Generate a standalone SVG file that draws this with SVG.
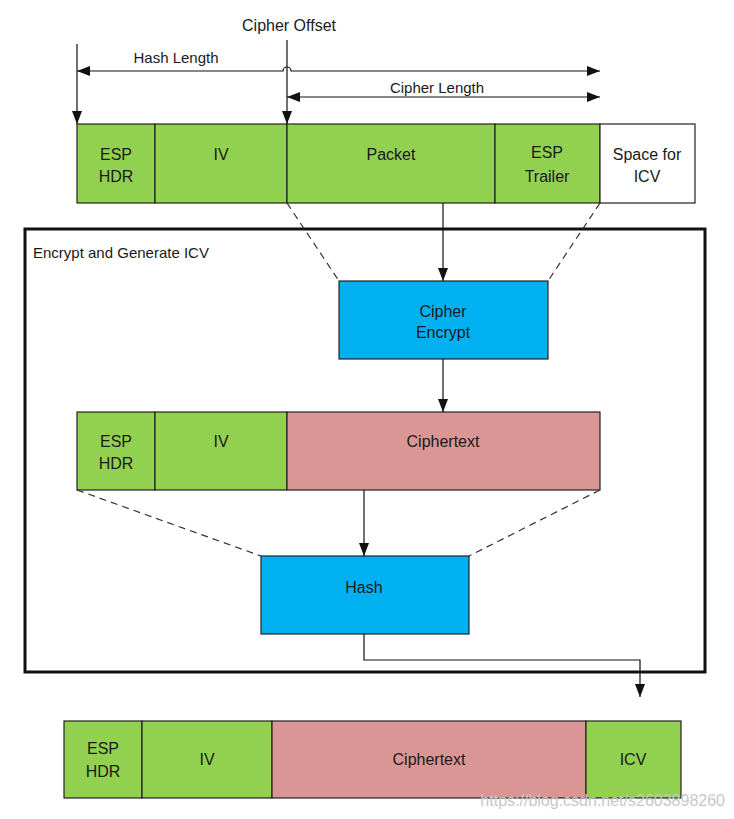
<svg xmlns="http://www.w3.org/2000/svg" width="734" height="819" viewBox="0 0 734 819">
<style>
text{font-family:"Liberation Sans",Arial,sans-serif;fill:#1a1a1a;}
.lbl{font-size:16px;text-anchor:middle;}
.sm{font-size:15px;}
.g{fill:#92D050;stroke:#222;stroke-width:1.2;}
.w{fill:#fff;stroke:#222;stroke-width:1.2;}
.p{fill:#D99694;stroke:#222;stroke-width:1.2;}
.b{fill:#00B0F0;stroke:#222;stroke-width:1.2;}
.ln{fill:none;stroke:#111;stroke-width:1.2;}
.ds{fill:none;stroke:#333;stroke-width:1.2;stroke-dasharray:7,5;}
</style>
<defs>
<marker id="ah" markerWidth="13" markerHeight="10" refX="13" refY="5" orient="auto" markerUnits="userSpaceOnUse" viewBox="0 0 13 10">
<path d="M0,0 L13,5 L0,10 z" fill="#111"/>
</marker>
<marker id="ahs" markerWidth="13" markerHeight="10" refX="0" refY="5" orient="auto" markerUnits="userSpaceOnUse" viewBox="0 0 13 10">
<path d="M13,0 L0,5 L13,10 z" fill="#111"/>
</marker>
</defs>

<g id="frame">
<rect x="25" y="229" width="680" height="443" fill="none" stroke="#111" stroke-width="3"/>
<text x="33" y="258" class="sm">Encrypt and Generate ICV</text>
</g>

<g id="dimensions">
<text x="289" y="31" class="lbl" font-size="15">Cipher Offset</text>
<text x="176" y="63" class="sm" text-anchor="middle">Hash Length</text>
<text x="437" y="93" class="sm" text-anchor="middle">Cipher Length</text>
</g>

<g id="row1">
<rect class="g" x="77" y="124" width="78" height="79"/>
<rect class="g" x="155" y="124" width="132" height="79"/>
<rect class="g" x="287" y="124" width="208" height="79"/>
<rect class="g" x="495" y="124" width="105" height="79"/>
<rect class="w" x="600" y="124" width="95" height="79"/>
<text class="lbl" x="116" y="160">ESP</text><text class="lbl" x="116" y="182">HDR</text>
<text class="lbl" x="221" y="160">IV</text>
<text class="lbl" x="391" y="160">Packet</text>
<text class="lbl" x="547" y="158">ESP</text><text class="lbl" x="547" y="182">Trailer</text>
<text class="lbl" x="647" y="160">Space for</text><text class="lbl" x="647" y="182">ICV</text>
</g>

<g id="cipher-encrypt">
<rect class="b" x="339" y="281" width="209" height="78"/>
<text class="lbl" x="443" y="317">Cipher</text><text class="lbl" x="443" y="338">Encrypt</text>
</g>

<g id="row2">
<rect class="g" x="77" y="412" width="78" height="78"/>
<rect class="g" x="155" y="412" width="132" height="78"/>
<rect class="p" x="287" y="412" width="313" height="78"/>
<text class="lbl" x="116" y="447">ESP</text><text class="lbl" x="116" y="469">HDR</text>
<text class="lbl" x="221" y="447">IV</text>
<text class="lbl" x="443" y="447">Ciphertext</text>
</g>

<g id="hash">
<rect class="b" x="261" y="556" width="208" height="78"/>
<text class="lbl" x="364" y="593">Hash</text>
</g>

<g id="row3">
<rect class="g" x="64" y="721" width="78" height="77"/>
<rect class="g" x="142" y="721" width="130" height="77"/>
<rect class="p" x="272" y="721" width="314" height="77"/>
<rect class="g" x="586" y="721" width="95" height="77"/>
<text class="lbl" x="103" y="754">ESP</text><text class="lbl" x="103" y="777">HDR</text>
<text class="lbl" x="207" y="765">IV</text>
<text class="lbl" x="429" y="765">Ciphertext</text>
<text class="lbl" x="633" y="765">ICV</text>
</g>

<g id="connectors">
<path class="ln" d="M77,44 V124" marker-end="url(#ah)"/>
<path class="ln" d="M287,40 V124" marker-end="url(#ah)"/>
<path class="ln" d="M77,71 H283 A4,4 0 0 1 291,71 H600" marker-start="url(#ahs)" marker-end="url(#ah)"/>
<path class="ln" d="M287,97 H600" marker-start="url(#ahs)" marker-end="url(#ah)"/>
<path class="ln" d="M443,203 V281" marker-end="url(#ah)"/>
<path class="ds" d="M287,203 L339,281"/>
<path class="ds" d="M600,203 L548,281"/>
<path class="ln" d="M443,359 V412" marker-end="url(#ah)"/>
<path class="ln" d="M364,490 V556" marker-end="url(#ah)"/>
<path class="ds" d="M77,490 L261,556"/>
<path class="ds" d="M600,490 L469,556"/>
<path class="ln" d="M364,634 V660 H640 V697" marker-end="url(#ah)"/>
</g>

<text x="725" y="806" font-size="16" text-anchor="end" style="fill:#c8c8c8">https://blog.csdn.net/s2603898260</text>
</svg>
